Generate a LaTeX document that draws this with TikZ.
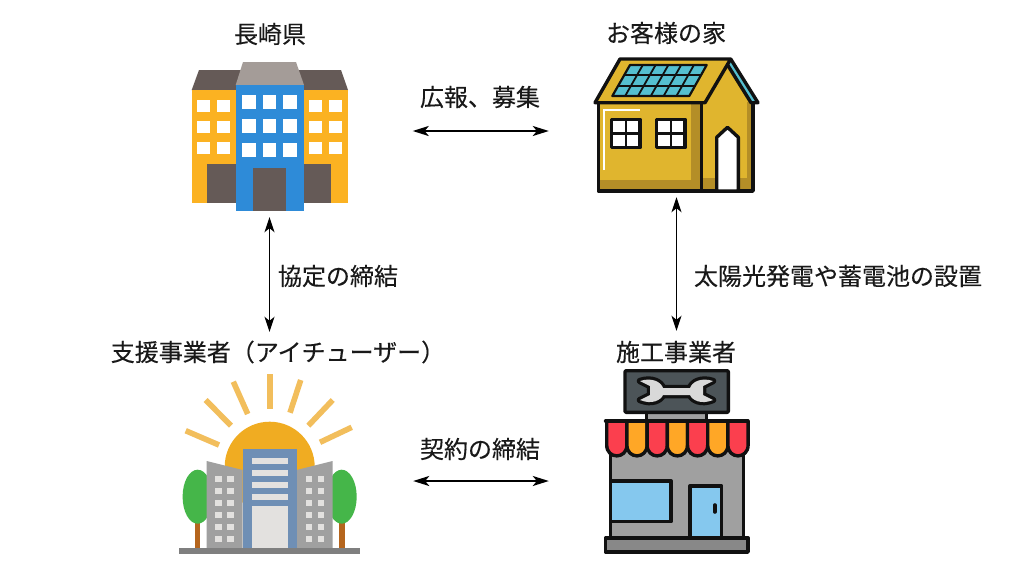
\documentclass[tikz,border=0pt]{standalone}
\usepackage{fontspec}
\setmainfont[FakeBold=0.25]{Noto Sans CJK JP}
\usetikzlibrary{arrows.meta}
\definecolor{bYellow}{HTML}{FBB222}
\definecolor{bDark}{HTML}{655A57}
\definecolor{bGrey}{HTML}{A49C98}
\definecolor{bBlue}{HTML}{2E8BD8}
\definecolor{hGold}{HTML}{E0B52E}
\definecolor{hShade}{HTML}{B48E27}
\definecolor{hTeal}{HTML}{55BFD0}
\definecolor{hInk}{HTML}{111111}
\definecolor{sRay}{HTML}{F2BE5C}
\definecolor{sSun}{HTML}{F0AC22}
\definecolor{sGrey}{HTML}{A0A0A0}
\definecolor{sBlue}{HTML}{6F8FB5}
\definecolor{sPale}{HTML}{E3E1DF}
\definecolor{sGreen}{HTML}{45B649}
\definecolor{sTrunk}{HTML}{B5651D}
\definecolor{sRoad}{HTML}{7F7F7F}
\definecolor{kSign}{HTML}{4C5458}
\definecolor{kRed}{HTML}{FB3F4E}
\definecolor{kOrange}{HTML}{FFA726}
\definecolor{kSky}{HTML}{85C8EE}
\definecolor{kWrench}{HTML}{D9D9D9}
\tikzset{
  label text/.style={inner sep=0pt,font=\fontsize{24}{29}\selectfont,text=black!90},
  icon box/.style={inner sep=0pt,minimum width=#1},
  link/.style={line width=1.8pt,{Stealth[length=16pt,width=10pt,inset=4pt]}-{Stealth[length=16pt,width=10pt,inset=4pt]}},
  vlink/.style={line width=1.7pt,{Stealth[length=15pt,width=10pt,inset=4pt]}-{Stealth[length=15pt,width=10pt,inset=4pt]}},
  ink/.style={draw=hInk,line width=3.4pt,line join=round},
  ray/.style={draw=sRay,line width=5.6pt}
}
\begin{document}
\begin{tikzpicture}[x=1pt,y=-1pt]
\useasboundingbox (0,0) rectangle (1024,576);
\fill[white] (0,0) rectangle (1024,576);

% anchors of the four icons
\node[icon box=156pt,minimum height=160pt] (pref) at (269.5,131) {};
\node[icon box=163pt,minimum height=122pt] (home) at (676.5,131) {};
\node[icon box=181pt,minimum height=146pt] (support) at (269.5,481) {};
\node[icon box=143pt,minimum height=142pt] (shop) at (676.5,481) {};

% prefecture building
\fill[bDark] (191.7,90) -- (199,70) -- (341,70) -- (348,90) -- cycle;
\fill[bYellow] (191.7,90) rectangle (348,202.7);
\fill[bGrey] (235.7,85) -- (243,62) -- (296,62) -- (304,85) -- cycle;
\fill[bDark] (207.3,164.3) rectangle (331.3,202.7);
\fill[bBlue] (235.7,85) rectangle (304,211);
\fill[bDark] (252.7,168.3) rectangle (286,211);
\foreach \wy in {99.7,120.7,141.7}{
  \foreach \wx in {197.3,217,309.3,329}{
    \fill[white] (\wx,\wy) rectangle ++(13,12);
  }
}
\foreach \wy in {95.3,119.3,143.3}{
  \foreach \wx in {242.3,263,283.3}{
    \fill[white] (\wx,\wy) rectangle ++(13.4,13.4);
  }
}

% house
\fill[hGold] (703,102) -- (730,62) -- (753,102) -- (753,191) -- (703,191) -- cycle;
\fill[hShade] (703,178) rectangle (753,191);
\fill[hShade] (747,102) rectangle (753,191);
\fill[hGold] (598.3,100) rectangle (701.7,191);
\fill[hShade] (598.3,180) rectangle (701.7,191);
\fill[hShade] (691,102) rectangle (701.7,191);
\draw[white,line width=2.2pt] (604,170) -- (604,110) -- (640,110);
\draw[ink] (598.3,102) -- (598.3,191) -- (753,191) -- (753,102);
\draw[ink] (701.7,102) -- (701.7,191);
\fill[hTeal] (730.7,59) -- (758,102.7) -- (751,102.7) -- (727,64) -- cycle;
\draw[ink] (730.7,59) -- (758,102.7) -- (751,102.7) -- (727,64);
\draw[ink,fill=hGold] (620,59) -- (730.7,59) -- (705,102.7) -- (595,102.7) -- cycle;
\fill[hTeal] (630,65) -- (706.7,65) -- (689.3,96) -- (612.3,96) -- cycle;
\draw[hInk,line width=2.2pt,line join=round] (630,65) -- (706.7,65) -- (689.3,96) -- (612.3,96) -- cycle;
\foreach \v in {0.3333,0.6667}{
  \draw[hInk,line width=1.8pt] (630-17.7*\v,65+31*\v) -- (706.7-17.4*\v,65+31*\v);
}
\foreach \u in {0.1667,0.3333,0.5,0.6667,0.8333}{
  \draw[hInk,line width=1.8pt] (630+76.7*\u,65) -- (612.3+77*\u,96);
}
\foreach \wx in {611.7,656.7}{
  \draw[ink,fill=white] (\wx,119.3) rectangle ++(28.3,28.4);
  \draw[hInk,line width=2.4pt] (\wx+14.15,119.3) -- ++(0,28.4) (\wx,133.5) -- ++(28.3,0);
}
\draw[ink,fill=white] (716.7,191) -- (716.7,137.3) -- (727.5,127.3) -- (738.3,137.3) -- (738.3,191) -- cycle;

% support company
\draw[ray] (269.7,374) -- (269.7,409.3);
\draw[ray] (300.7,380) -- (290,412.7);
\draw[ray] (332.7,400) -- (308.3,425.7);
\draw[ray] (351.7,427.3) -- (320,442.3);
\draw[ray] (233.3,381.7) -- (247.7,414);
\draw[ray] (205.7,400) -- (231,425.7);
\draw[ray] (185.7,430.7) -- (219,445);
\fill[sSun] (269.7,466.7) circle[radius=45pt];
\fill[sTrunk] (194.7,520) rectangle (200.3,548.3);
\fill[sTrunk] (339,520) rectangle (345,548.3);
\fill[sGreen] (197.6,496.7) ellipse[x radius=15pt,y radius=27pt];
\fill[sGreen] (341.7,496.7) ellipse[x radius=15pt,y radius=27pt];
\fill[sGrey] (206.7,461) -- (242.7,470) -- (242.7,548.3) -- (206.7,548.3) -- cycle;
\fill[sGrey] (332.7,461) -- (296.7,470) -- (296.7,548.3) -- (332.7,548.3) -- cycle;
\fill[sBlue] (242.7,449) rectangle (296.7,548.3);
\foreach \sy in {457.7,469.7,481.7,493.7}{
  \fill[sPale] (251.7,\sy) rectangle ++(36,6.3);
}
\fill[sPale] (251.7,506) rectangle (287.7,548.3);
\fill[sRoad] (179.3,548.3) rectangle (360,554);
\foreach \wy in {476,488,500,512,524,536}{
  \foreach \wx in {215.3,227.3,305.7,317.7}{
    \fill[sPale] (\wx,\wy) rectangle ++(6.3,6);
  }
}

% contractor shop
\draw[ink,fill=sGrey] (646.7,410) rectangle (706.7,422);
\draw[ink,fill=kSign,rounded corners=1pt] (625,370.7) rectangle (728.3,412.3);
\draw[hInk,line width=6.5pt,line join=round,fill=kWrench] (640,381) .. controls (652,377) and (661,382) .. (663,388) -- (690,388) .. controls (692,382) and (701,377) .. (713,381) -- (703,386) -- (703,395) -- (713,400) .. controls (701,405) and (692,400) .. (690,395) -- (663,395) .. controls (661,400) and (652,405) .. (640,400) -- (650,395) -- (650,386) -- cycle;
\fill[kWrench] (640,381) .. controls (652,377) and (661,382) .. (663,388) -- (690,388) .. controls (692,382) and (701,377) .. (713,381) -- (703,386) -- (703,395) -- (713,400) .. controls (701,405) and (692,400) .. (690,395) -- (663,395) .. controls (661,400) and (652,405) .. (640,400) -- (650,395) -- (650,386) -- cycle;
\draw[ink,fill=sGrey] (610.5,440) rectangle (743.5,540);
\draw[ink,fill=kSky] (610.5,481) rectangle (671,521.7);
\draw[ink,fill=kSky] (690,486) rectangle (721.7,540);
\draw[hInk,line width=3.6pt,line cap=round] (714.7,505) -- (714.7,512);
\draw[ink,fill=sGrey!85!black] (605.5,538) rectangle (748,552);
\foreach \ax/\acol in {606.7/kRed,626.9/kOrange,647.1/kRed,667.3/kOrange,687.5/kRed,707.7/kOrange,727.9/kRed}{
  \draw[ink,fill=\acol] (\ax,421) -- (\ax,445) .. controls (\ax,459.5) and (\ax+20.2,459.5) .. (\ax+20.2,445) -- (\ax+20.2,421) -- cycle;
}
\draw[hInk,line width=3.4pt,line cap=round] (605.5,421) -- (748,421);

% labels
\node[label text] (l1) at (270,34) {長崎県};
\node[label text] (l2) at (666,33) {お客様の家};
\node[label text] (l3) at (480,97) {広報、募集};
\node[label text] (l4) at (338,276) {協定の締結};
\node[label text] (l5) at (838,276) {太陽光発電や蓄電池の設置};
\node[label text] (l6) at (278,352) {支援事業者（アイチューザー）};
\node[label text] (l7) at (676,352) {施工事業者};
\node[label text] (l8) at (480,449) {契約の締結};

% connectors
\draw[link,shorten <=65pt,shorten >=46pt] (pref.east) -- (home.west);
\draw[link,shorten <=53pt,shorten >=56pt] (support.east) -- (shop.west);
\draw[vlink,shorten <=6pt,shorten >=76pt] (pref.south) -- (support.north);
\draw[vlink,shorten <=5pt,shorten >=79pt] (home.south) -- (shop.north);
\end{tikzpicture}
\end{document}
